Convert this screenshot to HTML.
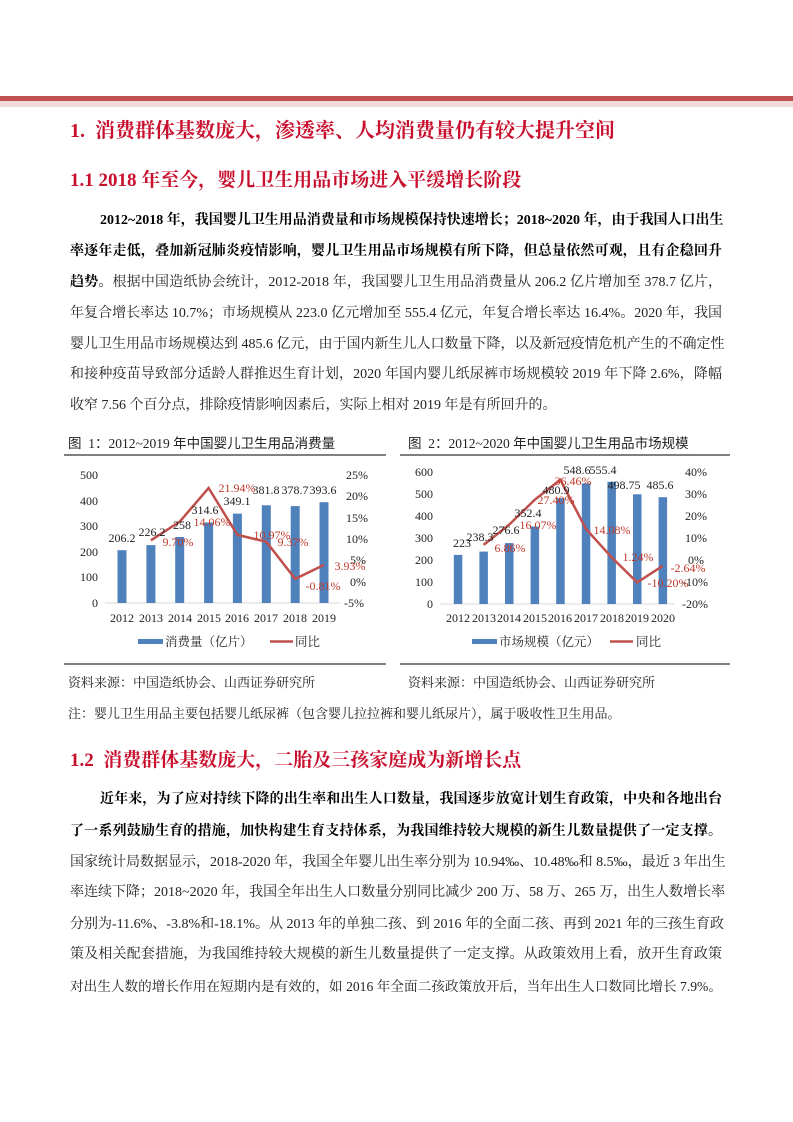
<!DOCTYPE html>
<html><head><meta charset="utf-8"><style>
body{margin:0;background:#fff;}
.pg{position:relative;width:793px;height:1122px;overflow:hidden;font-family:"Liberation Serif","Noto Serif CJK SC",serif;color:#222;}
.t{position:absolute;white-space:nowrap;}
.h{color:#c8102e;font-weight:bold;font-family:"Liberation Serif","Noto Serif CJK SC",serif;}
.ln{position:absolute;left:70px;width:652px;font-size:14px;line-height:20px;text-align:justify;text-align-last:justify;white-space:nowrap;}
.ln.l{text-align-last:left;}
b{font-weight:bold;color:#000;}
svg text{font-family:"Liberation Serif","Noto Serif CJK SC",serif;}
</style></head><body><div class="pg">
<div style="position:absolute;left:0;top:96px;width:793px;height:5px;background:#c0504d"></div>
<div style="position:absolute;left:0;top:101px;width:793px;height:6px;background:#f2dcdb"></div>
<div class="t h" style="left:70px;top:114px;font-size:20px">1.&nbsp;&nbsp;消费群体基数庞大，渗透率、人均消费量仍有较大提升空间</div>
<div class="t h" style="left:70px;top:165px;font-size:19px">1.1 2018 年至今，婴儿卫生用品市场进入平缓增长阶段</div>

<div class="ln" style="top:211px;padding-left:30px;width:622px"><b>2012~2018 年，我国婴儿卫生用品消费量和市场规模保持快速增长；2018~2020 年，由于我国人口出生</b></div>
<div class="ln" style="top:242px"><b>率逐年走低，叠加新冠肺炎疫情影响，婴儿卫生用品市场规模有所下降，但总量依然可观，且有企稳回升</b></div>
<div class="ln" style="top:273px"><b>趋势。</b>根据中国造纸协会统计，2012-2018 年，我国婴儿卫生用品消费量从 206.2 亿片增加至 378.7 亿片，</div>
<div class="ln" style="top:304px">年复合增长率达 10.7%；市场规模从 223.0 亿元增加至 555.4 亿元，年复合增长率达 16.4%。2020 年，我国</div>
<div class="ln" style="top:335px">婴儿卫生用品市场规模达到 485.6 亿元，由于国内新生儿人口数量下降，以及新冠疫情危机产生的不确定性</div>
<div class="ln" style="top:365px">和接种疫苗导致部分适龄人群推迟生育计划，2020 年国内婴儿纸尿裤市场规模较 2019 年下降 2.6%，降幅</div>
<div class="ln l" style="top:396px">收窄 7.56 个百分点，排除疫情影响因素后，实际上相对 2019 年是有所回升的。</div>

<div class="t" style="left:68px;top:432px;font-size:13.5px;font-family:'Liberation Serif','Noto Sans CJK SC',serif">图&nbsp;&nbsp;1：2012~2019 年中国婴儿卫生用品消费量</div>
<div class="t" style="left:408px;top:432px;font-size:13.5px;font-family:'Liberation Serif','Noto Sans CJK SC',serif">图&nbsp;&nbsp;2：2012~2020 年中国婴儿卫生用品市场规模</div>

<svg style="position:absolute;left:0;top:0" width="793" height="1122">
<line x1="64" y1="455" x2="386" y2="455" stroke="#000" stroke-width="1"/>
<line x1="400" y1="455" x2="730" y2="455" stroke="#000" stroke-width="1"/>
<line x1="64" y1="664" x2="386" y2="664" stroke="#000" stroke-width="1"/>
<line x1="400" y1="664" x2="730" y2="664" stroke="#000" stroke-width="1"/>
<g font-size="12" fill="#222">
<g text-anchor="end"><text x="98" y="479">500</text><text x="98" y="505">400</text><text x="98" y="530">300</text><text x="98" y="556">200</text><text x="98" y="581">100</text><text x="98" y="607">0</text></g>
<g><text x="346" y="479">25%</text><text x="346" y="500">20%</text><text x="346" y="522">15%</text><text x="346" y="543">10%</text><text x="350" y="564">5%</text><text x="350" y="586">0%</text><text x="344" y="607">-5%</text></g>
<line x1="105" y1="603" x2="340" y2="603" stroke="#d9d9d9"/>
<g fill="#4f81bd">
<rect x="117.5" y="550.2" width="9" height="52.8"/><rect x="146.4" y="545.1" width="9" height="57.9"/><rect x="175.2" y="537" width="9" height="66"/><rect x="204.1" y="522.5" width="9" height="80.5"/><rect x="232.9" y="513.6" width="9" height="89.4"/><rect x="261.8" y="505.3" width="9" height="97.7"/><rect x="290.7" y="506.1" width="9" height="96.9"/><rect x="319.5" y="502.2" width="9" height="100.8"/>
</g>
<polyline points="150.9,540.3 179.7,521.7 208.6,488 237.4,534.9 266.3,541.7 295.2,578.9 324,564.9" fill="none" stroke="#c0504d" stroke-width="2.5"/>
<g text-anchor="middle">
<text x="122" y="542">206.2</text><text x="152" y="536">226.2</text><text x="182" y="529">258</text><text x="205" y="514">314.6</text><text x="237" y="505">349.1</text><text x="266" y="494">381.8</text><text x="295" y="494">378.7</text><text x="323" y="494">393.6</text>
<g fill="#c0392b"><text x="178" y="546">9.70%</text><text x="212" y="526">14.06%</text><text x="237" y="492">21.94%</text><text x="272" y="539">10.97%</text><text x="293" y="546">9.37%</text><text x="323" y="590">-0.81%</text><text x="350" y="570">3.93%</text></g>
<text x="122" y="622">2012</text><text x="151" y="622">2013</text><text x="180" y="622">2014</text><text x="209" y="622">2015</text><text x="237" y="622">2016</text><text x="266" y="622">2017</text><text x="295" y="622">2018</text><text x="324" y="622">2019</text>
</g>
<rect x="138" y="639" width="25" height="5" fill="#4f81bd"/><text x="165" y="646" font-size="12.5">消费量（亿片）</text>
<line x1="270" y1="641.5" x2="293" y2="641.5" stroke="#c0504d" stroke-width="2.5"/><text x="295" y="646" font-size="12.5">同比</text>
</g>
<g font-size="12" fill="#222">
<g text-anchor="end"><text x="433" y="476">600</text><text x="433" y="498">500</text><text x="433" y="520">400</text><text x="433" y="542">300</text><text x="433" y="564">200</text><text x="433" y="586">100</text><text x="433" y="608">0</text></g>
<g><text x="685" y="476">40%</text><text x="685" y="498">30%</text><text x="685" y="520">20%</text><text x="685" y="542">10%</text><text x="688" y="564">0%</text><text x="682" y="586">-10%</text><text x="682" y="608">-20%</text></g>
<line x1="440" y1="604" x2="675" y2="604" stroke="#d9d9d9"/>
<g fill="#4f81bd">
<rect x="453.8" y="554.9" width="8.5" height="49.1"/><rect x="479.4" y="551.6" width="8.5" height="52.4"/><rect x="505" y="543.1" width="8.5" height="60.9"/><rect x="530.6" y="526.5" width="8.5" height="77.5"/><rect x="556.2" y="498.2" width="8.5" height="105.8"/><rect x="581.8" y="483.3" width="8.5" height="120.7"/><rect x="607.4" y="481.8" width="8.5" height="122.2"/><rect x="633" y="494.3" width="8.5" height="109.7"/><rect x="658.6" y="497.2" width="8.5" height="106.8"/>
</g>
<polyline points="483.6,544.9 509.2,524.6 534.8,499.7 560.4,479.8 586,529 611.6,557.3 637.2,582.4 662.8,565.8" fill="none" stroke="#c0504d" stroke-width="2.5"/>
<g text-anchor="middle">
<text x="462" y="547">223</text><text x="480" y="541">238.3</text><text x="506" y="534">276.6</text><text x="528" y="517">352.4</text><text x="556" y="494">480.9</text><text x="577" y="474">548.6</text><text x="603" y="474">555.4</text><text x="624" y="489">498.75</text><text x="660" y="489">485.6</text>
<g fill="#c0392b"><text x="510" y="552">6.86%</text><text x="538" y="529">16.07%</text><text x="556" y="504">27.40%</text><text x="573" y="485">36.46%</text><text x="612" y="534">14.08%</text><text x="638" y="561">1.24%</text><text x="668" y="587">-10.20%</text><text x="688" y="572">-2.64%</text></g>
<text x="458" y="622">2012</text><text x="484" y="622">2013</text><text x="509" y="622">2014</text><text x="535" y="622">2015</text><text x="560" y="622">2016</text><text x="586" y="622">2017</text><text x="612" y="622">2018</text><text x="637" y="622">2019</text><text x="663" y="622">2020</text>
</g>
<rect x="472" y="639" width="25" height="5" fill="#4f81bd"/><text x="499" y="646" font-size="12.5">市场规模（亿元）</text>
<line x1="610" y1="641.5" x2="633" y2="641.5" stroke="#c0504d" stroke-width="2.5"/><text x="636" y="646" font-size="12.5">同比</text>
</g>
</svg>

<div class="t" style="left:68px;top:672px;font-size:13px">资料来源：中国造纸协会、山西证券研究所</div>
<div class="t" style="left:408px;top:672px;font-size:13px">资料来源：中国造纸协会、山西证券研究所</div>
<div class="t" style="left:68px;top:703px;font-size:13px">注：婴儿卫生用品主要包括婴儿纸尿裤（包含婴儿拉拉裤和婴儿纸尿片），属于吸收性卫生用品。</div>
<div class="t h" style="left:70px;top:745px;font-size:19px">1.2&nbsp;&nbsp;消费群体基数庞大，二胎及三孩家庭成为新增长点</div>

<div class="ln" style="top:790px;padding-left:30px;width:622px"><b>近年来，为了应对持续下降的出生率和出生人口数量，我国逐步放宽计划生育政策，中央和各地出台</b></div>
<div class="ln" style="top:822px"><b>了一系列鼓励生育的措施，加快构建生育支持体系，为我国维持较大规模的新生儿数量提供了一定支撑。</b></div>
<div class="ln" style="top:853px">国家统计局数据显示，2018-2020 年，我国全年婴儿出生率分别为 10.94‰、10.48‰和 8.5‰，最近 3 年出生</div>
<div class="ln" style="top:883px">率连续下降；2018~2020 年，我国全年出生人口数量分别同比减少 200 万、58 万、265 万，出生人数增长率</div>
<div class="ln" style="top:915px">分别为-11.6%、-3.8%和-18.1%。从 2013 年的单独二孩、到 2016 年的全面二孩、再到 2021 年的三孩生育政</div>
<div class="ln" style="top:945px">策及相关配套措施，为我国维持较大规模的新生儿数量提供了一定支撑。从政策效用上看，放开生育政策</div>
<div class="ln" style="top:977px;font-size:13.6px">对出生人数的增长作用在短期内是有效的，如 2016 年全面二孩政策放开后，当年出生人口数同比增长 7.9%。</div>
</div></body></html>
